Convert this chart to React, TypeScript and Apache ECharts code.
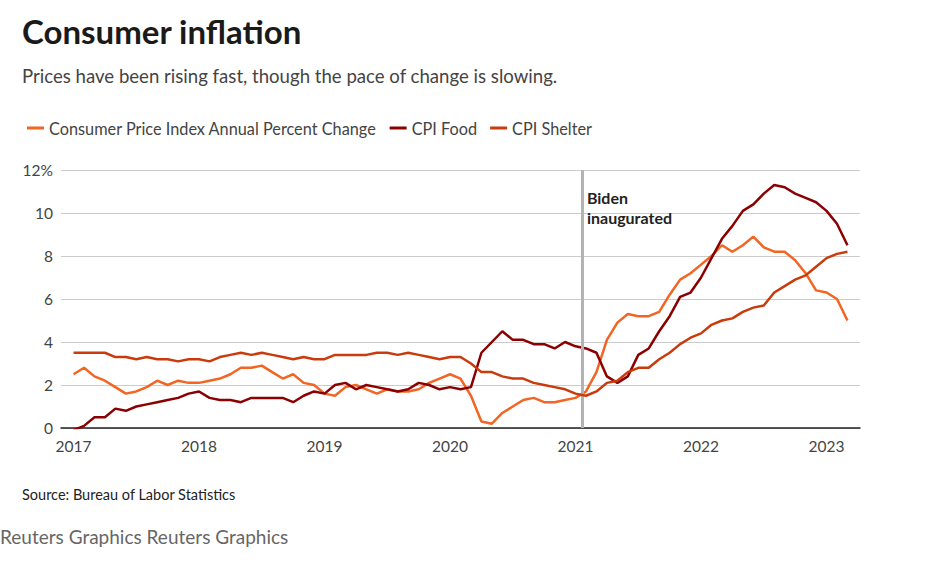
import React, { useEffect, useRef } from "react";
import * as echarts from "echarts";

const START_YEAR = 2017;
const yearTicks = [0, 12, 24, 36, 48, 60, 72];
const yTicks = [0, 2, 4, 6, 8, 10, 12];

const cpiAll = [
  2.5, 2.8, 2.4, 2.2, 1.9, 1.6, 1.7, 1.9, 2.2, 2.0, 2.2, 2.1,
  2.1, 2.2, 2.3, 2.5, 2.8, 2.8, 2.9, 2.6, 2.3, 2.5, 2.1, 2.0,
  1.6, 1.5, 1.9, 2.0, 1.8, 1.6, 1.8, 1.7, 1.7, 1.8, 2.1, 2.3,
  2.5, 2.3, 1.5, 0.3, 0.2, 0.7, 1.0, 1.3, 1.4, 1.2, 1.2, 1.3,
  1.4, 1.7, 2.6, 4.1, 4.9, 5.3, 5.2, 5.2, 5.4, 6.2, 6.9, 7.2,
  7.6, 8.0, 8.5, 8.2, 8.5, 8.9, 8.4, 8.2, 8.2, 7.8, 7.2, 6.4,
  6.3, 6.0, 5.0,
];

const cpiFood = [
  -0.1, 0.1, 0.5, 0.5, 0.9, 0.8, 1.0, 1.1, 1.2, 1.3, 1.4, 1.6,
  1.7, 1.4, 1.3, 1.3, 1.2, 1.4, 1.4, 1.4, 1.4, 1.2, 1.5, 1.7,
  1.6, 2.0, 2.1, 1.8, 2.0, 1.9, 1.8, 1.7, 1.8, 2.1, 2.0, 1.8,
  1.9, 1.8, 1.9, 3.5, 4.0, 4.5, 4.1, 4.1, 3.9, 3.9, 3.7, 4.0,
  3.8, 3.7, 3.5, 2.4, 2.1, 2.4, 3.4, 3.7, 4.5, 5.2, 6.1, 6.3,
  7.0, 7.9, 8.8, 9.4, 10.1, 10.4, 10.9, 11.3, 11.2, 10.9, 10.7, 10.5,
  10.1, 9.5, 8.5,
];

const cpiShelter = [
  3.5, 3.5, 3.5, 3.5, 3.3, 3.3, 3.2, 3.3, 3.2, 3.2, 3.1, 3.2,
  3.2, 3.1, 3.3, 3.4, 3.5, 3.4, 3.5, 3.4, 3.3, 3.2, 3.3, 3.2,
  3.2, 3.4, 3.4, 3.4, 3.4, 3.5, 3.5, 3.4, 3.5, 3.4, 3.3, 3.2,
  3.3, 3.3, 3.0, 2.6, 2.6, 2.4, 2.3, 2.3, 2.1, 2.0, 1.9, 1.8,
  1.6, 1.5, 1.7, 2.1, 2.2, 2.6, 2.8, 2.8, 3.2, 3.5, 3.9, 4.2,
  4.4, 4.8, 5.0, 5.1, 5.4, 5.6, 5.7, 6.3, 6.6, 6.9, 7.1, 7.5,
  7.9, 8.1, 8.2,
];

const seriesNames = [
  "Consumer Price Index Annual Percent Change",
  "CPI Food",
  "CPI Shelter",
];
const seriesColors = ["#f26522", "#8b0000", "#c93a0c"];

// Biden inauguration: Jan 20, 2021 (months since Jan 2017)
const bidenMonth = 48 + 19 / 31;
const bidenLabel = "Biden\ninaugurated";

const FONT = "Lato, 'Noto Sans', sans-serif";

export default function App() {
  const ref = useRef<HTMLDivElement>(null);

  useEffect(() => {
    document.body.style.margin = "0";
    if (!ref.current) return;
    const chart = echarts.init(ref.current, undefined, { renderer: "svg" });
    const toPairs = (arr: number[]) => arr.map((v, i) => [i, v]);
    const datasets = [cpiAll, cpiFood, cpiShelter];

    chart.setOption({
      animation: false,
      backgroundColor: "#ffffff",
      textStyle: { fontFamily: FONT },
      legend: {
        left: 22,
        top: 115,
        itemWidth: 17,
        itemHeight: 3,
        itemGap: 13,
        icon: "rect",
        textStyle: { fontSize: 16.3, color: "#444", fontFamily: FONT },
        data: seriesNames,
      },
      graphic: [
        {
          type: "text",
          left: 22,
          top: 14,
          style: { text: "Consumer inflation", font: `bold 33px ${FONT}`, fill: "#1a1a1a" },
        },
        {
          type: "text",
          left: 22,
          top: 66,
          style: {
            text: "Prices have been rising fast, though the pace of change is slowing.",
            font: `18.6px ${FONT}`,
            fill: "#444",
          },
        },
        {
          type: "text",
          left: 22,
          top: 487,
          style: { text: "Source: Bureau of Labor Statistics", font: `14.5px ${FONT}`, fill: "#222" },
        },
        {
          type: "text",
          left: 0,
          top: 527,
          style: { text: "Reuters Graphics Reuters Graphics", font: `19px ${FONT}`, fill: "#666" },
        },
      ],
      grid: { left: 61, right: 73, top: 170, bottom: 159, containLabel: false },
      xAxis: {
        type: "value",
        min: -1.2,
        max: 75.2,
        axisLine: { show: true, lineStyle: { color: "#222", width: 1.5 } },
        axisTick: { show: false },
        splitLine: { show: false },
        axisLabel: {
          customValues: yearTicks,
          formatter: (v: number) => String(START_YEAR + Math.round(v / 12)),
          fontSize: 15.5,
          color: "#444",
          margin: 10,
          fontFamily: FONT,
        },
      },
      yAxis: {
        type: "value",
        min: 0,
        max: 12,
        interval: 2,
        axisLine: { show: false },
        axisTick: { show: false },
        splitLine: { lineStyle: { color: "#cccccc", width: 1 } },
        axisLabel: {
          customValues: yTicks,
          formatter: (v: number) => (v === 12 ? "12%" : String(v)),
          fontSize: 15.5,
          color: "#444",
          margin: 8,
          fontFamily: FONT,
        },
      },
      series: [
        ...seriesNames.map((name, idx) => ({
          name,
          type: "line",
          data: toPairs(datasets[idx]),
          showSymbol: false,
          symbol: "none",
          lineStyle: { width: 2.5, color: seriesColors[idx] },
          itemStyle: { color: seriesColors[idx] },
          z: 3 + idx,
          markLine:
            idx === 0
              ? {
                  silent: true,
                  symbol: "none",
                  lineStyle: { color: "#b3b3b3", width: 3, type: "solid" },
                  label: {
                    show: true,
                    position: "insideEndBottom",
                    formatter: bidenLabel,
                    rotate: 0,
                    fontSize: 16,
                    fontWeight: "bold",
                    color: "#222",
                    fontFamily: FONT,
                    lineHeight: 20,
                    align: "left",
                    padding: [12, 0, 0, 10],
                  },
                  data: [{ xAxis: bidenMonth }],
                }
              : undefined,
        })),
      ],
    });

    return () => chart.dispose();
  }, []);

  return <div ref={ref} style={{ width: 933, height: 587 }} />;
}
